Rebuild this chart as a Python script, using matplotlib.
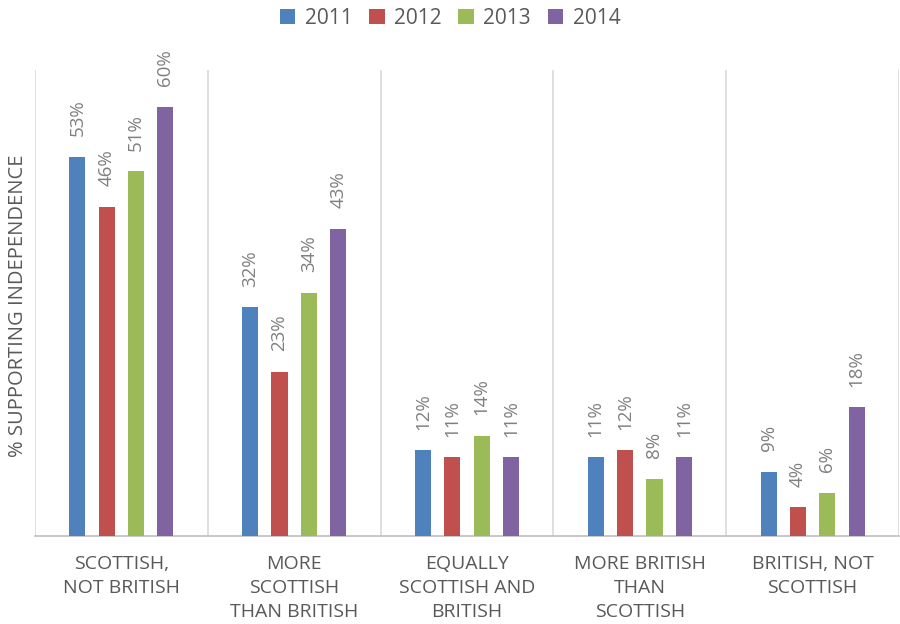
import matplotlib
matplotlib.use("Agg")
import matplotlib.pyplot as plt
import numpy as np

categories = ["SCOTTISH,\nNOT BRITISH", "MORE\nSCOTTISH\nTHAN BRITISH", "EQUALLY\nSCOTTISH AND\nBRITISH",
              "MORE BRITISH\nTHAN\nSCOTTISH", "BRITISH, NOT\nSCOTTISH"]
years = ["2011", "2012", "2013", "2014"]
v2011 = [53, 32, 12, 11, 9]
v2012 = [46, 23, 11, 12, 4]
v2013 = [51, 34, 14, 8, 6]
v2014 = [60, 43, 11, 11, 18]
series = [v2011, v2012, v2013, v2014]
colors = ["#4F81BD", "#C0504D", "#9BBB59", "#8064A2"]

plt.rcParams['font.family'] = ['Open Sans', 'DejaVu Sans']
fig = plt.figure(figsize=(9, 6.24), dpi=100)
ax = fig.add_axes([35/900, 1-536/624, 864/900, (536-70)/624])

x = np.arange(len(categories))
step = 0.17
width = 0.093
for i, (vals, c, y) in enumerate(zip(series, colors, years)):
    pos = x + (i - 1.5) * step
    ax.bar(pos, vals, width=width, color=c, label=y, zorder=3)
    for p, v in zip(pos, vals):
        ax.text(p, v + 2.9, f"{v}%", rotation=90, ha="center", va="bottom",
                fontsize=13.5, color="#7F7F7F")

ax.set_xlim(-0.5, len(categories) - 0.5)
ax.set_ylim(0, 65.2)
ax.set_yticks([])
ax.set_xticks(x)
ax.set_xticklabels(categories, fontsize=14, color="#595959", linespacing=1.4)
ax.tick_params(axis="x", length=0, pad=14)
for b in np.arange(-0.5, len(categories), 1.0):
    ax.axvline(b, color="#D9D9D9", lw=1.2, zorder=1)
for s in ["top", "right", "left"]:
    ax.spines[s].set_visible(False)
ax.spines["bottom"].set_color("#BFBFBF")
ax.spines["bottom"].set_linewidth(1.2)

fig.text(18/900, 1-306/624, "% SUPPORTING INDEPENDENCE", rotation=90, ha="center", va="center",
         fontsize=14.5, color="#595959")

leg = ax.legend(loc="center", bbox_to_anchor=(0.5, 1-18/624), bbox_transform=fig.transFigure,
                ncol=4, frameon=False, fontsize=15, handlelength=0.75, handleheight=0.75,
                handletextpad=0.45, columnspacing=0.8)
for t in leg.get_texts():
    t.set_color("#595959")

fig.savefig("out.png", dpi=100)
